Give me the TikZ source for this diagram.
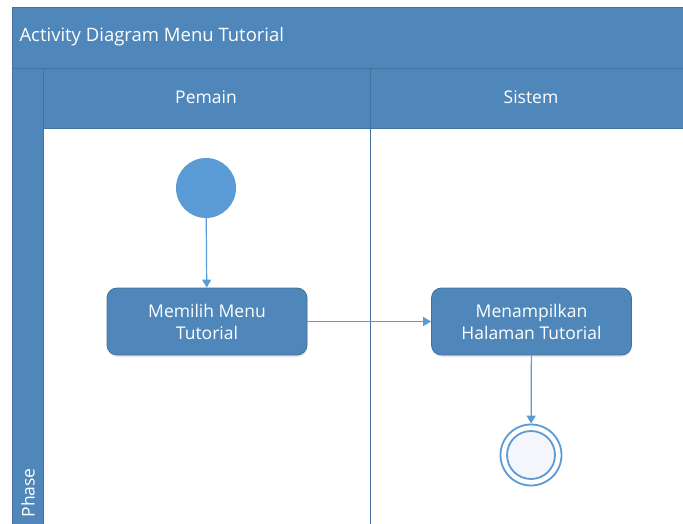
\documentclass[tikz,border=0pt]{standalone}
\usepackage{fontspec}
\setmainfont{Open Sans}
\usetikzlibrary{arrows.meta,shadows}
\definecolor{laneblue}{HTML}{4F87BB}
\definecolor{edgeblue}{HTML}{41719C}
\definecolor{flowblue}{HTML}{5B9BD5}
\definecolor{endfill}{HTML}{F4F6FB}
\tikzset{
  x=1pt,y=-1pt,
  bar/.style={fill=laneblue,draw=edgeblue,line width=0.8pt},
  lanetext/.style={text=white,font=\fontsize{17.5}{20}\selectfont},
  action/.style={rectangle,rounded corners=10pt,fill=laneblue,draw=edgeblue,line width=0.8pt,
    minimum width=200pt,minimum height=67pt,text=white,align=center,
    font=\fontsize{17.5}{22}\selectfont,inner sep=0pt,
    drop shadow={opacity=0.18,shadow xshift=0.5pt,shadow yshift=-2pt}},
  startnode/.style={circle,fill=flowblue,minimum size=60pt,inner sep=0pt},
  endnode/.style={circle,draw=flowblue,line width=1.8pt,fill=white,minimum size=61pt,inner sep=0pt},
  endinner/.style={draw=flowblue,line width=1.8pt,fill=endfill},
  flow/.style={draw=flowblue,line width=1.2pt,-{Triangle[length=8pt,width=9pt]}}
}
\begin{document}
\begin{tikzpicture}
\useasboundingbox (0,0) rectangle (683,524);
% title bar
\path[bar] (12,7) rectangle (690,68);
\node[lanetext,anchor=west,font=\fontsize{18.5}{21}\selectfont] (title) at (16,37) {Activity Diagram Menu Tutorial};
% phase column
\path[bar] (12,68) rectangle (43,530);
\node[lanetext,rotate=90,anchor=west] (phase) at (28,521) {Phase};
% headers
\path[bar] (43,68) rectangle (370,128);
\path[bar] (370,68) rectangle (690,128);
\node[lanetext] (pemain) at (206,97) {Pemain};
\node[lanetext] (sistem) at (531,97) {Sistem};
% lanes
\draw[edgeblue,line width=1pt] (43,128) -- (43,530);
\draw[edgeblue,line width=1pt] (370,128) -- (370,530);
% nodes
\node[startnode] (start) at (206,188) {};
\node[action] (a1) at (207,321.5) {Memilih Menu\\Tutorial};
\node[action] (a2) at (531.5,321.5) {Menampilkan\\Halaman Tutorial};
\node[endnode] (end) at (531,455) {};
\path[endinner] (end.center) circle (24);
% flows
\draw[flow] (start) -- (a1);
\draw[flow] (a1) -- (a2);
\draw[flow] (a2) -- (end);
\end{tikzpicture}
\end{document}
